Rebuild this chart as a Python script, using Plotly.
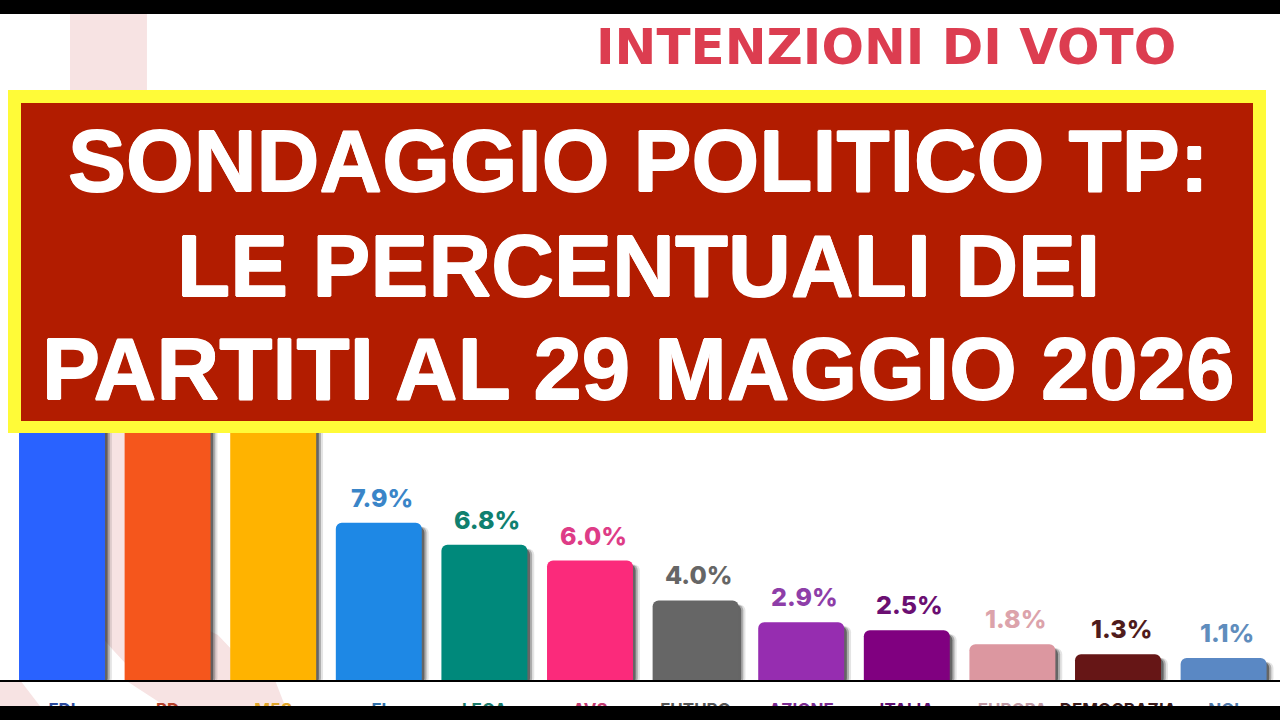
import plotly.graph_objects as go

# party names, values, colours (the first three tops sit behind the banner, estimated)
parties = ["FDI", "PD", "M5S", "FI", "LEGA", "AVS", "FUTURO", "AZIONE", "ITALIA", "EUROPA", "DEMOCRAZIA", "NOI"]
values = [28.0, 22.0, 13.0, 7.9, 6.8, 6.0, 4.0, 2.9, 2.5, 1.8, 1.3, 1.1]
bar_colors = ["#2962ff", "#f5561c", "#ffb300", "#1e88e5", "#00897b", "#fb2a7b",
              "#666666", "#962db0", "#800080", "#dc97a0", "#661616", "#5a88c4"]
label_colors = ["#2962ff", "#f5561c", "#ffb300", "#3a85c8", "#10806f", "#de3c87",
                "#666666", "#8e3ea8", "#6b0f72", "#dca3ab", "#4f1c1c", "#5f8dbd"]
tick_colors = ["#2b4a9c", "#b5402a", "#e0a52a", "#2f6fa8", "#1a7a6a", "#c23a70",
               "#555555", "#7a2a90", "#5e1070", "#c09aa5", "#3a1a1a", "#4f78a8"]
banner_lines = ["SONDAGGIO POLITICO TP:", "LE PERCENTUALI DEI", "PARTITI AL 29 MAGGIO 2026"]
heading = "INTENZIONI DI VOTO"

W, H = 1280, 720
BAR_W = 0.814
idx = list(range(len(parties)))


def px(x):
    return x / W


def py(y):
    return 1 - y / H


def rect(x0, y0, x1, y1, color, layer="above"):
    return dict(type="rect", xref="paper", yref="paper", x0=px(x0), x1=px(x1), y0=py(y0), y1=py(y1),
                fillcolor=color, line_width=0, layer=layer)


def poly(points, color="#f7e3e3"):
    d = "M " + " L ".join(f"{px(a):.4f},{py(b):.4f}" for a, b in points) + " Z"
    return dict(type="path", xref="paper", yref="paper", path=d, fillcolor=color, line_width=0, layer="below")


fig = go.Figure()

# soft shadow, a few layers
for shift, dark in [(0.065, 0.12), (0.045, 0.28), (0.025, 0.5)]:
    fig.add_trace(go.Bar(x=idx, y=values, base=-0.2, width=BAR_W, offset=-BAR_W / 2 + shift,
                         marker=dict(color=f"rgba(30,30,30,{dark})", cornerradius=6, line_width=0),
                         cliponaxis=False, hoverinfo="skip", showlegend=False))

fig.add_trace(go.Bar(x=idx, y=values, width=BAR_W, offset=-BAR_W / 2,
                     marker=dict(color=bar_colors, cornerradius=6, line_width=0),
                     showlegend=False))

shapes = [
    poly([(70, 14), (147, 14), (147, 600), (218, 635), (285, 706), (165, 706), (113, 650), (70, 600)]),
    poly([(0, 680), (20, 680), (40, 706), (0, 706)]),
    poly([(125, 680), (275, 680), (285, 706), (165, 706)]),
    rect(8, 90, 1266, 433, "#fffb38"),
    rect(21, 103, 1253, 421, "#b21c00"),
    rect(0, 0, W, 14, "#000000"),
    rect(0, 706, W, H, "#000000"),
]

annotations = [dict(text=heading, x=px(886), y=py(47), xref="paper", yref="paper", showarrow=False,
                    xanchor="center", yanchor="middle",
                    font=dict(family="DejaVu Sans", size=50, color="#dc3d50", weight=700))]
thick = "0.7px 0 0 #fff, -0.7px 0 0 #fff, 0 0.7px 0 #fff, 0 -0.7px 0 #fff"
for line, cy in zip(banner_lines, [160, 265, 368]):
    annotations.append(dict(text=line, x=px(638), y=py(cy), xref="paper", yref="paper", showarrow=False,
                            xanchor="center", yanchor="middle",
                            font=dict(family="Liberation Sans", size=87, color="#ffffff", weight=700, shadow=thick)))
# value labels; the first three would land on the banner, which hides them in the picture
for i, v, c in zip(idx[3:], values[3:], label_colors[3:]):
    annotations.append(dict(text=f"{v:.1f}%", x=i, y=v, xref="x", yref="y", showarrow=False,
                            xanchor="center", yanchor="middle", xshift=3, yshift=25,
                            font=dict(family="Inter", size=25, color=c, weight=800)))

fig.update_layout(
    width=W, height=H, margin=dict(l=0, r=0, t=0, b=0, autoexpand=False),
    paper_bgcolor="#ffffff", plot_bgcolor="rgba(0,0,0,0)",
    barmode="overlay", showlegend=False,
    shapes=shapes, annotations=annotations,
    xaxis=dict(range=[-62 / 105.6, (W - 62) / 105.6], tickmode="array", tickvals=idx,
               ticktext=[f'<span style="color:{c}">{p}</span>' for p, c in zip(parties, tick_colors)],
               tickangle=0, ticks="", showgrid=False, zeroline=False, automargin=False,
               showline=True, linecolor="#000000", linewidth=2, layer="above traces",
               tickfont=dict(family="Inter", size=17, weight=700), ticklabelstandoff=14),
    # the lower 40 px are outside the y domain, so the x axis sits on the bars' feet
    yaxis=dict(domain=[40 / H, 1], range=[0, 680 / 19.9], visible=False, zeroline=False,
               showgrid=False, automargin=False),
)

# page default margin would push the figure off the window
fig.write_html("out.html", config={"displayModeBar": False},
               post_script="document.body.style.margin='0';document.body.style.overflow='hidden';")
